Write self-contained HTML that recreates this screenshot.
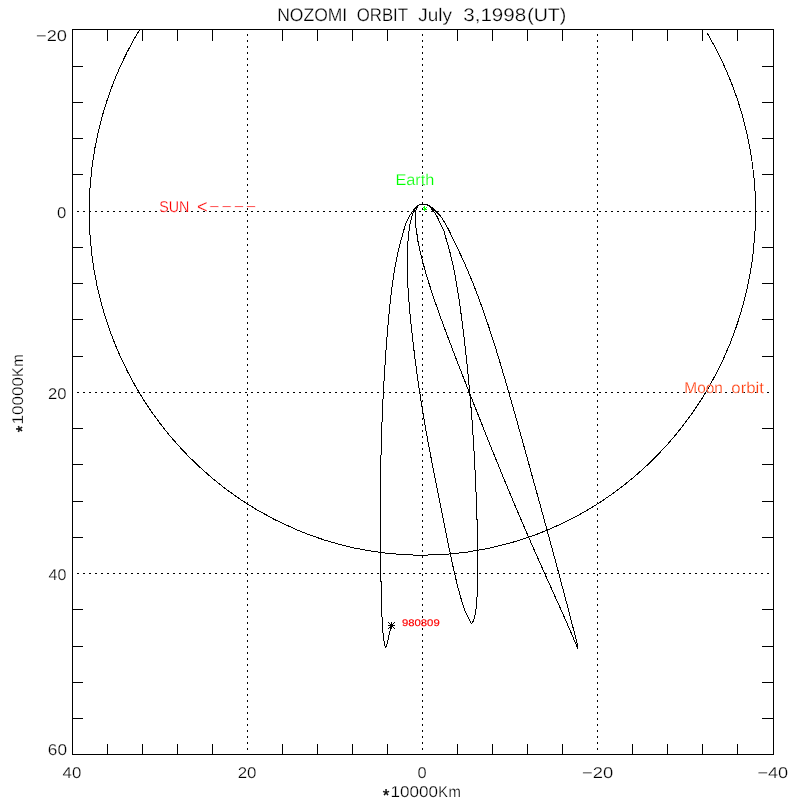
<!DOCTYPE html>
<html><head><meta charset="utf-8"><title>NOZOMI ORBIT</title>
<style>
html,body{margin:0;padding:0;background:#fff;}
svg{display:block;}
text{font-family:"Liberation Sans",sans-serif;text-rendering:geometricPrecision;stroke:#fff;stroke-width:0.25px;paint-order:fill stroke;}
</style></head><body>
<svg width="800" height="800" viewBox="0 0 800 800" style="will-change:transform">
<rect width="800" height="800" fill="#fff"/>

<g stroke="#000" stroke-width="1" stroke-dasharray="2 4" shape-rendering="crispEdges" fill="none">
<line x1="247.5" y1="34" x2="247.5" y2="754" />
<line x1="422.5" y1="34" x2="422.5" y2="754" />
<line x1="597.5" y1="34" x2="597.5" y2="754" />
<line x1="77" y1="211.5" x2="773" y2="211.5" />
<line x1="77" y1="392.5" x2="773" y2="392.5" />
<line x1="77" y1="573.5" x2="773" y2="573.5" />
</g>
<g stroke="#000" stroke-width="1" shape-rendering="crispEdges" fill="none">
<rect x="72.5" y="29.5" width="701.0" height="725.0"/>
<line x1="107.5" y1="29.5" x2="107.5" y2="40.5"/><line x1="107.5" y1="754.5" x2="107.5" y2="744"/>
<line x1="72.5" y1="66.5" x2="83" y2="66.5"/><line x1="773.5" y1="66.5" x2="762" y2="66.5"/>
<line x1="142.5" y1="29.5" x2="142.5" y2="40.5"/><line x1="142.5" y1="754.5" x2="142.5" y2="744"/>
<line x1="72.5" y1="102.5" x2="83" y2="102.5"/><line x1="773.5" y1="102.5" x2="762" y2="102.5"/>
<line x1="177.5" y1="29.5" x2="177.5" y2="40.5"/><line x1="177.5" y1="754.5" x2="177.5" y2="744"/>
<line x1="72.5" y1="138.5" x2="83" y2="138.5"/><line x1="773.5" y1="138.5" x2="762" y2="138.5"/>
<line x1="212.5" y1="29.5" x2="212.5" y2="40.5"/><line x1="212.5" y1="754.5" x2="212.5" y2="744"/>
<line x1="72.5" y1="174.5" x2="83" y2="174.5"/><line x1="773.5" y1="174.5" x2="762" y2="174.5"/>
<line x1="282.5" y1="29.5" x2="282.5" y2="40.5"/><line x1="282.5" y1="754.5" x2="282.5" y2="744"/>
<line x1="72.5" y1="247.5" x2="83" y2="247.5"/><line x1="773.5" y1="247.5" x2="762" y2="247.5"/>
<line x1="317.5" y1="29.5" x2="317.5" y2="40.5"/><line x1="317.5" y1="754.5" x2="317.5" y2="744"/>
<line x1="72.5" y1="283.5" x2="83" y2="283.5"/><line x1="773.5" y1="283.5" x2="762" y2="283.5"/>
<line x1="352.5" y1="29.5" x2="352.5" y2="40.5"/><line x1="352.5" y1="754.5" x2="352.5" y2="744"/>
<line x1="72.5" y1="319.5" x2="83" y2="319.5"/><line x1="773.5" y1="319.5" x2="762" y2="319.5"/>
<line x1="387.5" y1="29.5" x2="387.5" y2="40.5"/><line x1="387.5" y1="754.5" x2="387.5" y2="744"/>
<line x1="72.5" y1="356.5" x2="83" y2="356.5"/><line x1="773.5" y1="356.5" x2="762" y2="356.5"/>
<line x1="457.5" y1="29.5" x2="457.5" y2="40.5"/><line x1="457.5" y1="754.5" x2="457.5" y2="744"/>
<line x1="72.5" y1="428.5" x2="83" y2="428.5"/><line x1="773.5" y1="428.5" x2="762" y2="428.5"/>
<line x1="492.5" y1="29.5" x2="492.5" y2="40.5"/><line x1="492.5" y1="754.5" x2="492.5" y2="744"/>
<line x1="72.5" y1="464.5" x2="83" y2="464.5"/><line x1="773.5" y1="464.5" x2="762" y2="464.5"/>
<line x1="527.5" y1="29.5" x2="527.5" y2="40.5"/><line x1="527.5" y1="754.5" x2="527.5" y2="744"/>
<line x1="72.5" y1="501.5" x2="83" y2="501.5"/><line x1="773.5" y1="501.5" x2="762" y2="501.5"/>
<line x1="562.5" y1="29.5" x2="562.5" y2="40.5"/><line x1="562.5" y1="754.5" x2="562.5" y2="744"/>
<line x1="72.5" y1="537.5" x2="83" y2="537.5"/><line x1="773.5" y1="537.5" x2="762" y2="537.5"/>
<line x1="632.5" y1="29.5" x2="632.5" y2="40.5"/><line x1="632.5" y1="754.5" x2="632.5" y2="744"/>
<line x1="72.5" y1="609.5" x2="83" y2="609.5"/><line x1="773.5" y1="609.5" x2="762" y2="609.5"/>
<line x1="667.5" y1="29.5" x2="667.5" y2="40.5"/><line x1="667.5" y1="754.5" x2="667.5" y2="744"/>
<line x1="72.5" y1="646.5" x2="83" y2="646.5"/><line x1="773.5" y1="646.5" x2="762" y2="646.5"/>
<line x1="702.5" y1="29.5" x2="702.5" y2="40.5"/><line x1="702.5" y1="754.5" x2="702.5" y2="744"/>
<line x1="72.5" y1="682.5" x2="83" y2="682.5"/><line x1="773.5" y1="682.5" x2="762" y2="682.5"/>
<line x1="737.5" y1="29.5" x2="737.5" y2="40.5"/><line x1="737.5" y1="754.5" x2="737.5" y2="744"/>
<line x1="72.5" y1="718.5" x2="83" y2="718.5"/><line x1="773.5" y1="718.5" x2="762" y2="718.5"/>
</g>
<clipPath id="c"><rect x="72" y="29" width="702" height="726"/></clipPath>
<g clip-path="url(#c)" stroke="#000" stroke-width="1" fill="none" stroke-linejoin="round" shape-rendering="crispEdges">
<path d="M145.7,20A333.2,343.7 0 1 0 706.85,32.5"/>
<path d="M423.50,204.40C422.95,204.42 421.22,204.27 420.20,204.50C419.18,204.73 418.35,205.10 417.40,205.80C416.45,206.50 415.42,207.62 414.50,208.70C413.58,209.78 412.79,210.97 411.90,212.30C411.01,213.63 410.07,215.05 409.15,216.70C408.23,218.35 407.22,220.18 406.40,222.20C405.57,224.22 404.94,226.33 404.20,228.80C403.46,231.27 402.58,234.80 401.98,237.00C401.37,239.20 401.01,240.33 400.56,242.00C400.10,243.67 399.67,245.33 399.26,247.00C398.85,248.67 398.45,250.33 398.07,252.00C397.69,253.67 397.33,255.33 396.99,257.00C396.64,258.67 396.31,260.33 395.99,262.00C395.67,263.67 395.37,265.33 395.07,267.00C394.78,268.67 394.50,270.33 394.23,272.00C393.95,273.67 393.69,275.33 393.44,277.00C393.19,278.67 392.95,280.33 392.71,282.00C392.48,283.67 392.26,285.33 392.04,287.00C391.82,288.67 391.61,290.33 391.40,292.00C391.20,293.67 391.00,295.33 390.81,297.00C390.62,298.67 390.43,300.33 390.25,302.00C390.07,303.67 389.89,305.33 389.72,307.00C389.55,308.67 389.38,310.33 389.22,312.00C389.06,313.67 388.90,315.33 388.74,317.00C388.59,318.67 388.43,320.33 388.28,322.00C388.14,323.67 387.99,325.33 387.85,327.00C387.70,328.67 387.56,330.33 387.43,332.00C387.29,333.67 387.15,335.33 387.02,337.00C386.89,338.67 386.76,340.33 386.63,342.00C386.50,343.67 386.38,345.33 386.25,347.00C386.13,348.67 386.01,350.33 385.89,352.00C385.77,353.67 385.65,355.33 385.53,357.00C385.42,358.67 385.30,360.33 385.19,362.00C385.08,363.67 384.97,365.33 384.86,367.00C384.75,368.67 384.65,370.33 384.54,372.00C384.44,373.67 384.34,375.33 384.24,377.00C384.14,378.67 384.04,380.33 383.94,382.00C383.84,383.67 383.75,385.33 383.65,387.00C383.56,388.67 383.47,390.33 383.38,392.00C383.29,393.67 383.20,395.33 383.12,397.00C383.03,398.67 382.95,400.33 382.87,402.00C382.79,403.67 382.71,405.33 382.63,407.00C382.56,408.67 382.48,410.33 382.41,412.00C382.34,413.67 382.27,415.33 382.20,417.00C382.13,418.67 382.06,420.33 382.00,422.00C381.93,423.67 381.87,425.33 381.81,427.00C381.75,428.67 381.69,430.33 381.64,432.00C381.58,433.67 381.53,435.33 381.48,437.00C381.43,438.67 381.38,440.33 381.33,442.00C381.29,443.67 381.24,445.33 381.20,447.00C381.16,448.67 381.12,450.33 381.08,452.00C381.04,453.67 381.01,455.33 380.97,457.00C380.94,458.67 380.91,460.33 380.88,462.00C380.85,463.67 380.82,465.33 380.79,467.00C380.77,468.67 380.74,470.33 380.72,472.00C380.70,473.67 380.68,475.33 380.66,477.00C380.64,478.67 380.63,480.33 380.61,482.00C380.60,483.67 380.58,485.33 380.57,487.00C380.56,488.67 380.55,490.33 380.54,492.00C380.53,493.67 380.53,495.33 380.52,497.00C380.52,498.67 380.51,500.33 380.51,502.00C380.50,503.67 380.50,505.33 380.50,507.00C380.50,508.67 380.50,510.33 380.50,512.00C380.50,513.67 380.51,515.33 380.51,517.00C380.51,518.67 380.52,520.33 380.52,522.00C380.53,523.67 380.53,525.33 380.54,527.00C380.55,528.67 380.56,530.33 380.56,532.00C380.57,533.67 380.58,535.33 380.59,537.00C380.60,538.67 380.61,540.33 380.62,542.00C380.63,543.67 380.64,545.33 380.66,547.00C380.67,548.67 380.68,550.33 380.69,552.00C380.71,553.67 380.72,555.33 380.74,557.00C380.75,558.67 380.77,560.33 380.78,562.00C380.80,563.67 380.82,565.33 380.84,567.00C380.85,568.67 380.87,570.33 380.89,572.00C380.91,573.67 380.94,575.33 380.96,577.00C380.98,578.67 381.01,580.33 381.03,582.00C381.06,583.67 381.09,585.33 381.12,587.00C381.15,588.67 381.18,590.33 381.22,592.00C381.26,593.67 381.29,595.33 381.34,597.00C381.38,598.67 381.42,600.33 381.47,602.00C381.52,603.67 381.57,605.33 381.63,607.00C381.69,608.67 381.75,610.33 381.81,612.00C381.88,613.67 381.95,615.33 382.03,617.00C382.11,618.67 382.20,620.33 382.29,622.00C382.38,623.67 382.48,625.33 382.59,627.00C382.70,628.67 382.84,630.67 382.94,632.00C383.04,633.33 382.95,633.17 383.18,635.00C383.41,636.83 383.90,640.92 384.30,643.00C384.70,645.08 385.15,647.33 385.60,647.50C386.05,647.67 386.06,647.71 387.00,644.00C387.94,640.29 390.54,628.38 391.25,625.25"/>
<path d="M423.50,204.40C422.88,204.42 420.82,204.23 419.80,204.50C418.78,204.77 418.15,205.32 417.40,206.00C416.65,206.68 415.93,207.73 415.30,208.60C414.67,209.47 414.15,209.97 413.60,211.20C413.05,212.43 412.43,214.53 412.00,216.00C411.57,217.47 411.37,218.42 411.00,220.00C410.63,221.58 410.13,223.67 409.80,225.50C409.47,227.33 409.26,228.75 409.00,231.00C408.74,233.25 408.42,236.83 408.22,239.00C408.02,241.17 407.91,242.33 407.79,244.00C407.67,245.67 407.57,247.33 407.48,249.00C407.40,250.67 407.33,252.33 407.28,254.00C407.23,255.67 407.20,257.33 407.18,259.00C407.16,260.67 407.16,262.33 407.17,264.00C407.17,265.67 407.19,267.33 407.23,269.00C407.26,270.67 407.30,272.33 407.36,274.00C407.41,275.67 407.47,277.33 407.54,279.00C407.62,280.67 407.70,282.33 407.79,284.00C407.87,285.67 407.97,287.33 408.07,289.00C408.18,290.67 408.29,292.33 408.40,294.00C408.52,295.67 408.64,297.33 408.77,299.00C408.90,300.67 409.03,302.33 409.17,304.00C409.30,305.67 409.45,307.33 409.59,309.00C409.74,310.67 409.89,312.33 410.05,314.00C410.20,315.67 410.36,317.33 410.53,319.00C410.69,320.67 410.86,322.33 411.03,324.00C411.20,325.67 411.37,327.33 411.55,329.00C411.73,330.67 411.91,332.33 412.09,334.00C412.28,335.67 412.46,337.33 412.65,339.00C412.84,340.67 413.03,342.33 413.23,344.00C413.43,345.67 413.62,347.33 413.83,349.00C414.03,350.67 414.23,352.33 414.44,354.00C414.65,355.67 414.86,357.33 415.07,359.00C415.28,360.67 415.50,362.33 415.72,364.00C415.94,365.67 416.16,367.33 416.38,369.00C416.61,370.67 416.83,372.33 417.06,374.00C417.29,375.67 417.53,377.33 417.76,379.00C418.00,380.67 418.24,382.33 418.48,384.00C418.72,385.67 418.97,387.33 419.22,389.00C419.47,390.67 419.72,392.33 419.97,394.00C420.23,395.67 420.48,397.33 420.74,399.00C421.00,400.67 421.27,402.33 421.53,404.00C421.80,405.67 422.07,407.33 422.34,409.00C422.61,410.67 422.89,412.33 423.17,414.00C423.44,415.67 423.72,417.33 424.01,419.00C424.29,420.67 424.58,422.33 424.87,424.00C425.15,425.67 425.45,427.33 425.74,429.00C426.04,430.67 426.33,432.33 426.63,434.00C426.93,435.67 427.23,437.33 427.54,439.00C427.84,440.67 428.15,442.33 428.46,444.00C428.76,445.67 429.08,447.33 429.39,449.00C429.70,450.67 430.02,452.33 430.33,454.00C430.65,455.67 430.97,457.33 431.29,459.00C431.61,460.67 431.93,462.33 432.25,464.00C432.58,465.67 432.90,467.33 433.23,469.00C433.55,470.67 433.88,472.33 434.21,474.00C434.54,475.67 434.87,477.33 435.20,479.00C435.53,480.67 435.86,482.33 436.19,484.00C436.52,485.67 436.85,487.33 437.19,489.00C437.52,490.67 437.85,492.33 438.19,494.00C438.52,495.67 438.86,497.33 439.19,499.00C439.52,500.67 439.86,502.33 440.19,504.00C440.53,505.67 440.86,507.33 441.20,509.00C441.53,510.67 441.87,512.33 442.20,514.00C442.54,515.67 442.88,517.33 443.21,519.00C443.55,520.67 443.88,522.33 444.22,524.00C444.55,525.67 444.89,527.33 445.23,529.00C445.56,530.67 445.90,532.33 446.24,534.00C446.58,535.67 446.91,537.33 447.25,539.00C447.59,540.67 447.93,542.33 448.27,544.00C448.61,545.67 448.96,547.33 449.30,549.00C449.65,550.67 449.99,552.33 450.34,554.00C450.69,555.67 451.04,557.33 451.40,559.00C451.75,560.67 452.11,562.33 452.48,564.00C452.84,565.67 453.20,567.33 453.58,569.00C453.95,570.67 454.33,572.33 454.71,574.00C455.09,575.67 455.48,577.33 455.88,579.00C456.28,580.67 456.69,582.33 457.10,584.00C457.52,585.67 457.94,587.33 458.38,589.00C458.81,590.67 459.26,592.33 459.72,594.00C460.18,595.67 460.65,597.33 461.14,599.00C461.63,600.67 462.13,602.33 462.65,604.00C463.17,605.67 463.94,608.00 464.27,609.00C464.59,610.00 463.97,608.58 464.61,610.00C465.24,611.42 467.10,615.45 468.10,617.50C469.10,619.55 470.02,621.30 470.60,622.30C471.18,623.30 471.27,623.50 471.60,623.50C471.93,623.50 472.24,622.88 472.60,622.30C472.96,621.72 473.35,621.22 473.75,620.00C474.15,618.78 474.54,617.50 475.00,615.00C475.46,612.50 476.11,609.17 476.50,605.00C476.89,600.83 477.21,592.83 477.37,590.00C477.52,587.17 477.41,589.17 477.45,588.00C477.50,586.83 477.58,584.67 477.63,583.00C477.69,581.33 477.73,579.67 477.76,578.00C477.79,576.33 477.82,574.67 477.84,573.00C477.86,571.33 477.87,569.67 477.88,568.00C477.89,566.33 477.89,564.67 477.88,563.00C477.88,561.33 477.87,559.67 477.86,558.00C477.84,556.33 477.83,554.67 477.81,553.00C477.78,551.33 477.76,549.67 477.73,548.00C477.70,546.33 477.67,544.67 477.64,543.00C477.61,541.33 477.57,539.67 477.53,538.00C477.49,536.33 477.45,534.67 477.41,533.00C477.37,531.33 477.32,529.67 477.27,528.00C477.23,526.33 477.18,524.67 477.13,523.00C477.08,521.33 477.03,519.67 476.97,518.00C476.92,516.33 476.86,514.67 476.81,513.00C476.75,511.33 476.69,509.67 476.63,508.00C476.57,506.33 476.51,504.67 476.45,503.00C476.39,501.33 476.33,499.67 476.26,498.00C476.20,496.33 476.13,494.67 476.06,493.00C475.99,491.33 475.93,489.67 475.85,488.00C475.78,486.33 475.71,484.67 475.64,483.00C475.57,481.33 475.49,479.67 475.41,478.00C475.34,476.33 475.26,474.67 475.18,473.00C475.10,471.33 475.02,469.67 474.93,468.00C474.85,466.33 474.77,464.67 474.68,463.00C474.59,461.33 474.50,459.67 474.41,458.00C474.32,456.33 474.23,454.67 474.13,453.00C474.04,451.33 473.94,449.67 473.85,448.00C473.75,446.33 473.65,444.67 473.54,443.00C473.44,441.33 473.33,439.67 473.23,438.00C473.12,436.33 473.01,434.67 472.90,433.00C472.79,431.33 472.67,429.67 472.56,428.00C472.44,426.33 472.32,424.67 472.20,423.00C472.08,421.33 471.96,419.67 471.83,418.00C471.71,416.33 471.58,414.67 471.45,413.00C471.32,411.33 471.19,409.67 471.05,408.00C470.92,406.33 470.78,404.67 470.64,403.00C470.50,401.33 470.36,399.67 470.22,398.00C470.07,396.33 469.93,394.67 469.78,393.00C469.63,391.33 469.48,389.67 469.33,388.00C469.17,386.33 469.02,384.67 468.86,383.00C468.70,381.33 468.54,379.67 468.38,378.00C468.22,376.33 468.06,374.67 467.89,373.00C467.72,371.33 467.56,369.67 467.39,368.00C467.22,366.33 467.04,364.67 466.87,363.00C466.69,361.33 466.52,359.67 466.34,358.00C466.16,356.33 465.98,354.67 465.80,353.00C465.61,351.33 465.43,349.67 465.24,348.00C465.05,346.33 464.86,344.67 464.67,343.00C464.48,341.33 464.28,339.67 464.09,338.00C463.89,336.33 463.69,334.67 463.49,333.00C463.29,331.33 463.08,329.67 462.88,328.00C462.67,326.33 462.46,324.67 462.25,323.00C462.04,321.33 461.82,319.67 461.60,318.00C461.38,316.33 461.16,314.67 460.93,313.00C460.71,311.33 460.48,309.67 460.25,308.00C460.01,306.33 459.78,304.67 459.53,303.00C459.29,301.33 459.05,299.67 458.80,298.00C458.54,296.33 458.29,294.67 458.03,293.00C457.76,291.33 457.50,289.67 457.22,288.00C456.95,286.33 456.66,284.67 456.38,283.00C456.09,281.33 455.79,279.67 455.49,278.00C455.18,276.33 454.87,274.67 454.55,273.00C454.22,271.33 453.89,269.67 453.55,268.00C453.21,266.33 452.85,264.67 452.49,263.00C452.12,261.33 451.74,259.67 451.35,258.00C450.96,256.33 450.55,254.67 450.13,253.00C449.71,251.33 449.27,249.67 448.82,248.00C448.36,246.33 447.89,244.67 447.40,243.00C446.91,241.33 446.47,240.08 445.87,238.00C445.27,235.92 444.73,232.95 443.80,230.50C442.87,228.05 441.47,225.69 440.30,223.30C439.13,220.91 437.78,217.98 436.80,216.15C435.82,214.32 435.05,213.26 434.40,212.30C433.75,211.34 433.47,211.08 432.90,210.40C432.33,209.72 431.65,208.90 431.00,208.20C430.35,207.50 429.77,206.80 429.00,206.20C428.23,205.60 427.32,204.90 426.40,204.60C425.48,204.30 423.98,204.43 423.50,204.40"/>
<path d="M423.50,204.40C422.95,204.42 421.08,204.28 420.20,204.50C419.32,204.72 418.78,205.12 418.20,205.70C417.62,206.28 417.10,207.12 416.70,208.00C416.30,208.88 416.02,210.00 415.80,211.00C415.58,212.00 415.48,212.67 415.40,214.00C415.32,215.33 415.27,217.08 415.30,219.00C415.33,220.92 415.38,223.50 415.60,225.50C415.82,227.50 416.28,228.75 416.60,231.00C416.92,233.25 417.23,236.83 417.55,239.00C417.87,241.17 418.19,242.33 418.53,244.00C418.87,245.67 419.23,247.33 419.61,249.00C419.98,250.67 420.37,252.33 420.77,254.00C421.17,255.67 421.58,257.33 422.01,259.00C422.43,260.67 422.87,262.33 423.32,264.00C423.77,265.67 424.23,267.33 424.70,269.00C425.17,270.67 425.65,272.33 426.14,274.00C426.63,275.67 427.13,277.33 427.64,279.00C428.15,280.67 428.67,282.33 429.19,284.00C429.72,285.67 430.25,287.33 430.79,289.00C431.33,290.67 431.88,292.33 432.43,294.00C432.99,295.67 433.55,297.33 434.11,299.00C434.68,300.67 435.25,302.33 435.83,304.00C436.41,305.67 436.99,307.33 437.58,309.00C438.17,310.67 438.76,312.33 439.36,314.00C439.96,315.67 440.56,317.33 441.16,319.00C441.77,320.67 442.38,322.33 442.99,324.00C443.60,325.67 444.22,327.33 444.84,329.00C445.46,330.67 446.08,332.33 446.70,334.00C447.33,335.67 447.95,337.33 448.58,339.00C449.21,340.67 449.84,342.33 450.48,344.00C451.11,345.67 451.75,347.33 452.39,349.00C453.02,350.67 453.66,352.33 454.30,354.00C454.94,355.67 455.59,357.33 456.23,359.00C456.88,360.67 457.52,362.33 458.17,364.00C458.81,365.67 459.46,367.33 460.11,369.00C460.76,370.67 461.41,372.33 462.06,374.00C462.71,375.67 463.36,377.33 464.01,379.00C464.66,380.67 465.32,382.33 465.97,384.00C466.62,385.67 467.28,387.33 467.93,389.00C468.59,390.67 469.24,392.33 469.90,394.00C470.56,395.67 471.21,397.33 471.87,399.00C472.53,400.67 473.19,402.33 473.84,404.00C474.50,405.67 475.16,407.33 475.82,409.00C476.48,410.67 477.14,412.33 477.80,414.00C478.46,415.67 479.12,417.33 479.79,419.00C480.45,420.67 481.11,422.33 481.77,424.00C482.44,425.67 483.10,427.33 483.76,429.00C484.43,430.67 485.09,432.33 485.76,434.00C486.43,435.67 487.09,437.33 487.76,439.00C488.43,440.67 489.09,442.33 489.76,444.00C490.43,445.67 491.10,447.33 491.77,449.00C492.45,450.67 493.12,452.33 493.79,454.00C494.46,455.67 495.14,457.33 495.81,459.00C496.49,460.67 497.16,462.33 497.84,464.00C498.52,465.67 499.20,467.33 499.88,469.00C500.56,470.67 501.24,472.33 501.92,474.00C502.61,475.67 503.29,477.33 503.98,479.00C504.66,480.67 505.35,482.33 506.04,484.00C506.73,485.67 507.42,487.33 508.11,489.00C508.80,490.67 509.50,492.33 510.19,494.00C510.89,495.67 511.58,497.33 512.28,499.00C512.98,500.67 513.68,502.33 514.38,504.00C515.09,505.67 515.79,507.33 516.50,509.00C517.20,510.67 517.91,512.33 518.62,514.00C519.33,515.67 520.04,517.33 520.76,519.00C521.47,520.67 522.18,522.33 522.90,524.00C523.62,525.67 524.34,527.33 525.06,529.00C525.78,530.67 526.50,532.33 527.23,534.00C527.95,535.67 528.68,537.33 529.41,539.00C530.14,540.67 530.87,542.33 531.60,544.00C532.33,545.67 533.06,547.33 533.80,549.00C534.53,550.67 535.27,552.33 536.01,554.00C536.75,555.67 537.49,557.33 538.23,559.00C538.97,560.67 539.71,562.33 540.45,564.00C541.20,565.67 541.94,567.33 542.69,569.00C543.43,570.67 544.18,572.33 544.93,574.00C545.68,575.67 546.42,577.33 547.17,579.00C547.92,580.67 548.67,582.33 549.42,584.00C550.17,585.67 550.92,587.33 551.67,589.00C552.42,590.67 553.17,592.33 553.92,594.00C554.67,595.67 555.42,597.33 556.17,599.00C556.92,600.67 557.66,602.33 558.41,604.00C559.16,605.67 559.90,607.33 560.65,609.00C561.39,610.67 562.13,612.33 562.87,614.00C563.61,615.67 564.35,617.33 565.09,619.00C565.82,620.67 566.56,622.33 567.29,624.00C568.02,625.67 568.74,627.33 569.47,629.00C570.19,630.67 570.91,632.33 571.62,634.00C572.34,635.67 573.05,637.33 573.75,639.00C574.46,640.67 575.16,642.43 575.85,644.00C576.55,645.57 577.56,647.67 577.90,648.40"/>
<path d="M423.50,204.40C424.05,204.43 425.75,204.33 426.80,204.60C427.85,204.87 428.88,205.45 429.80,206.00C430.72,206.55 431.50,207.20 432.30,207.90C433.10,208.60 433.50,209.13 434.60,210.20C435.70,211.27 437.58,212.85 438.90,214.30C440.22,215.75 441.32,217.12 442.50,218.90C443.68,220.68 444.87,222.98 446.00,225.00C447.13,227.02 448.16,228.67 449.30,231.00C450.44,233.33 451.84,236.83 452.86,239.00C453.88,241.17 454.57,242.33 455.41,244.00C456.24,245.67 457.07,247.33 457.88,249.00C458.69,250.67 459.49,252.33 460.27,254.00C461.06,255.67 461.83,257.33 462.60,259.00C463.36,260.67 464.11,262.33 464.85,264.00C465.59,265.67 466.32,267.33 467.04,269.00C467.76,270.67 468.47,272.33 469.17,274.00C469.87,275.67 470.56,277.33 471.24,279.00C471.92,280.67 472.60,282.33 473.26,284.00C473.92,285.67 474.58,287.33 475.23,289.00C475.88,290.67 476.52,292.33 477.15,294.00C477.78,295.67 478.41,297.33 479.02,299.00C479.64,300.67 480.25,302.33 480.86,304.00C481.46,305.67 482.06,307.33 482.65,309.00C483.24,310.67 483.83,312.33 484.41,314.00C484.99,315.67 485.56,317.33 486.13,319.00C486.70,320.67 487.26,322.33 487.82,324.00C488.38,325.67 488.94,327.33 489.49,329.00C490.04,330.67 490.58,332.33 491.12,334.00C491.66,335.67 492.20,337.33 492.73,339.00C493.26,340.67 493.79,342.33 494.32,344.00C494.84,345.67 495.36,347.33 495.88,349.00C496.40,350.67 496.91,352.33 497.43,354.00C497.94,355.67 498.45,357.33 498.95,359.00C499.46,360.67 499.96,362.33 500.46,364.00C500.96,365.67 501.46,367.33 501.96,369.00C502.45,370.67 502.95,372.33 503.44,374.00C503.93,375.67 504.42,377.33 504.91,379.00C505.40,380.67 505.88,382.33 506.37,384.00C506.85,385.67 507.33,387.33 507.81,389.00C508.30,390.67 508.77,392.33 509.25,394.00C509.73,395.67 510.21,397.33 510.68,399.00C511.16,400.67 511.63,402.33 512.11,404.00C512.58,405.67 513.05,407.33 513.52,409.00C513.99,410.67 514.46,412.33 514.93,414.00C515.40,415.67 515.87,417.33 516.34,419.00C516.81,420.67 517.28,422.33 517.74,424.00C518.21,425.67 518.68,427.33 519.14,429.00C519.61,430.67 520.07,432.33 520.54,434.00C521.00,435.67 521.46,437.33 521.93,439.00C522.39,440.67 522.85,442.33 523.32,444.00C523.78,445.67 524.24,447.33 524.71,449.00C525.17,450.67 525.63,452.33 526.09,454.00C526.55,455.67 527.01,457.33 527.48,459.00C527.94,460.67 528.40,462.33 528.86,464.00C529.32,465.67 529.78,467.33 530.24,469.00C530.70,470.67 531.16,472.33 531.62,474.00C532.08,475.67 532.54,477.33 533.00,479.00C533.46,480.67 533.92,482.33 534.38,484.00C534.84,485.67 535.30,487.33 535.76,489.00C536.22,490.67 536.68,492.33 537.14,494.00C537.59,495.67 538.05,497.33 538.51,499.00C538.97,500.67 539.43,502.33 539.89,504.00C540.34,505.67 540.80,507.33 541.26,509.00C541.72,510.67 542.18,512.33 542.63,514.00C543.09,515.67 543.55,517.33 544.00,519.00C544.46,520.67 544.92,522.33 545.37,524.00C545.83,525.67 546.28,527.33 546.74,529.00C547.20,530.67 547.65,532.33 548.10,534.00C548.56,535.67 549.01,537.33 549.47,539.00C549.92,540.67 550.38,542.33 550.83,544.00C551.28,545.67 551.73,547.33 552.19,549.00C552.64,550.67 553.09,552.33 553.54,554.00C553.99,555.67 554.44,557.33 554.89,559.00C555.34,560.67 555.79,562.33 556.24,564.00C556.69,565.67 557.14,567.33 557.59,569.00C558.04,570.67 558.48,572.33 558.93,574.00C559.38,575.67 559.82,577.33 560.27,579.00C560.71,580.67 561.16,582.33 561.60,584.00C562.04,585.67 562.49,587.33 562.93,589.00C563.37,590.67 563.81,592.33 564.25,594.00C564.69,595.67 565.13,597.33 565.57,599.00C566.01,600.67 566.45,602.33 566.89,604.00C567.33,605.67 567.76,607.33 568.20,609.00C568.64,610.67 569.07,612.33 569.51,614.00C569.94,615.67 570.37,617.33 570.81,619.00C571.24,620.67 571.67,622.33 572.10,624.00C572.53,625.67 572.97,627.33 573.39,629.00C573.82,630.67 574.25,632.33 574.68,634.00C575.11,635.67 575.54,637.33 575.96,639.00C576.39,640.67 576.92,642.43 577.24,644.00C577.56,645.57 577.79,647.67 577.90,648.40"/>
</g>
<g stroke="#000" stroke-width="1" fill="none"><path d="M388.0,625.5H395.0M391.5,622.0V629.0M388.0,622.0L395.0,629.0M388.0,629.0L395.0,622.0"/></g>
<g stroke="#00ff00" stroke-width="1" fill="none" shape-rendering="crispEdges"><path d="M424.5,206.3V211M422.8,207.4L427,210M422.8,210L427,207.4"/></g>
<text x="277.2" y="21" font-size="18.2" fill="#000" textLength="70.02" lengthAdjust="spacingAndGlyphs">NOZOMI</text>
<text x="356.73" y="21" font-size="18.2" fill="#000" textLength="51.27" lengthAdjust="spacingAndGlyphs">ORBIT</text>
<text x="418.3" y="21" font-size="18.2" fill="#000" textLength="33.7" lengthAdjust="spacingAndGlyphs">July</text>
<text x="463.23" y="21" font-size="18.2" fill="#000" textLength="63.04" lengthAdjust="spacingAndGlyphs">3,1998</text>
<text x="527.19" y="21" font-size="18.2" fill="#000" textLength="39.13" lengthAdjust="spacingAndGlyphs">(UT)</text>
<text x="36.05" y="41" font-size="15.6" fill="#000" textLength="30.99" lengthAdjust="spacingAndGlyphs">−20</text>
<text x="57.13" y="218" font-size="15.6" fill="#000" textLength="9.32" lengthAdjust="spacingAndGlyphs">0</text>
<text x="47.94" y="399" font-size="15.6" fill="#000" textLength="18.6" lengthAdjust="spacingAndGlyphs">20</text>
<text x="48.49" y="580" font-size="15.6" fill="#000" textLength="17.89" lengthAdjust="spacingAndGlyphs">40</text>
<text x="47.84" y="755" font-size="15.6" fill="#000" textLength="19.21" lengthAdjust="spacingAndGlyphs">60</text>
<text x="62.58" y="778" font-size="15.6" fill="#000" textLength="18.71" lengthAdjust="spacingAndGlyphs">40</text>
<text x="237.69" y="778" font-size="15.6" fill="#000" textLength="18.85" lengthAdjust="spacingAndGlyphs">20</text>
<text x="417.43" y="778" font-size="15.6" fill="#000" textLength="9.14" lengthAdjust="spacingAndGlyphs">0</text>
<text x="582.05" y="778" font-size="15.6" fill="#000" textLength="31.24" lengthAdjust="spacingAndGlyphs">−20</text>
<text x="757.4" y="778" font-size="15.6" fill="#000" textLength="30.78" lengthAdjust="spacingAndGlyphs">−40</text>
<text x="395.42" y="185" font-size="15.6" fill="#00ff00" textLength="38.99" lengthAdjust="spacingAndGlyphs">Earth</text>
<text x="159.21" y="212" font-size="15.6" fill="#ff0000" textLength="30.1" lengthAdjust="spacingAndGlyphs">SUN</text>
<text x="197.1" y="213" font-size="19.0" fill="#ff0000" textLength="10.8" lengthAdjust="spacingAndGlyphs">&lt;</text>
<text x="208.39" y="210" font-size="12.9" fill="#ff0000" textLength="48.96" lengthAdjust="spacingAndGlyphs">----</text>
<text x="684.33" y="393" font-size="15.6" fill="#ff3300" textLength="38.58" lengthAdjust="spacingAndGlyphs">Moon</text>
<text x="731.33" y="393" font-size="15.6" fill="#ff3300" textLength="32.67" lengthAdjust="spacingAndGlyphs">orbit</text>
<text x="401.99" y="626" font-size="9.7" fill="#ff0000" textLength="37.68" lengthAdjust="spacingAndGlyphs" style="stroke:#ff0000;stroke-width:0.15px">980809</text>
<g><text x="382.75" y="801.45" font-size="17.03" fill="#000" style="stroke:#000;stroke-width:0.35px">*</text><text x="390.56" y="797" font-size="15.6" fill="#000" textLength="47.48" lengthAdjust="spacingAndGlyphs">10000</text><text x="438.19" y="797" font-size="15.6" fill="#000" textLength="9.61" lengthAdjust="spacingAndGlyphs">K</text><text x="448.45" y="797" font-size="15.6" fill="#000" textLength="12.43" lengthAdjust="spacingAndGlyphs">m</text></g>
<g transform="translate(-773.55,815.1) rotate(-90)"><text x="382.75" y="801.45" font-size="17.03" fill="#000" style="stroke:#000;stroke-width:0.35px">*</text><text x="390.56" y="797" font-size="15.6" fill="#000" textLength="47.48" lengthAdjust="spacingAndGlyphs">10000</text><text x="438.19" y="797" font-size="15.6" fill="#000" textLength="9.61" lengthAdjust="spacingAndGlyphs">K</text><text x="448.45" y="797" font-size="15.6" fill="#000" textLength="12.43" lengthAdjust="spacingAndGlyphs">m</text></g>
</svg></body></html>
